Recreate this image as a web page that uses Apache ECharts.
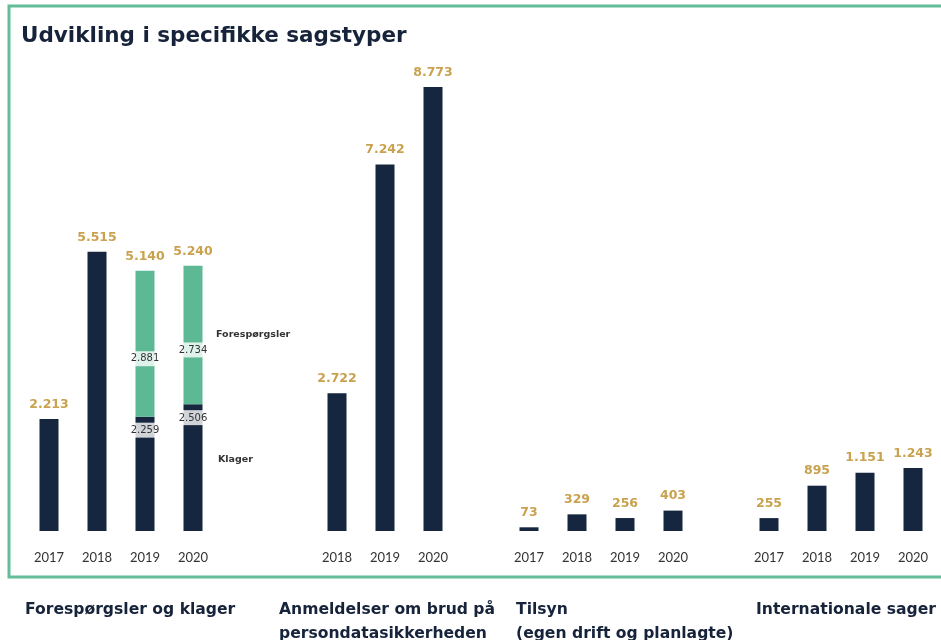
<!DOCTYPE html>
<html><head><meta charset="utf-8">
<script src="https://cdn.jsdelivr.net/npm/echarts@6/dist/echarts.min.js"></script>
<style>html,body{margin:0;padding:0;background:#fff}#c{width:941px;height:640px}</style>
</head><body><div id="c"></div>
<script>
// ---- data ----
const chartTitle = 'Udvikling i specifikke sagstyper';
const groupNames = ['Forespørgsler og klager', 'Anmeldelser om brud på\npersondatasikkerheden', 'Tilsyn\n(egen drift og planlagte)', 'Internationale sager'];
const years1 = ['2017', '2018', '2019', '2020'];
const totals1 = [2213, 5515, 5140, 5240];
const klager1 = [null, null, 2259, 2506];
const foresp1 = [null, null, 2881, 2734];
const years2 = ['2018', '2019', '2020'];
const totals2 = [2722, 7242, 8773];
const years3 = ['2017', '2018', '2019', '2020'];
const totals3 = [73, 329, 256, 403];
const years4 = ['2017', '2018', '2019', '2020'];
const totals4 = [255, 895, 1151, 1243];
const seriesNames = ['Klager', 'Forespørgsler'];

// ---- layout / style ----
const gapSlots = [2, 1, 1];
const NAVY = '#16263e', GREEN = '#5db994', GOLD = '#c9a24f', BORDER = '#62bd98', TXT = '#16233a';
const FONT = 'Lato';
const BOLDFONT = 'DejaVu Sans';
const groupTitleX = [25, 279, 516, 756];

function fmt(n) { return String(n).replace(/\B(?=(\d{3})+(?!\d))/g, '.'); }

const groups = [
  { years: years1, totals: totals1, klager: klager1, foresp: foresp1 },
  { years: years2, totals: totals2 },
  { years: years3, totals: totals3 },
  { years: years4, totals: totals4 }
];

const innerLabelBase = {
  show: true, fontSize: 10, color: '#333', fontFamily: BOLDFONT,
  backgroundColor: 'rgba(255,255,255,0.8)', padding: [3, 0, 2, 0],
  formatter: p => fmt(p.value)
};

const cats = [], catLabels = [], navy = [], green = [], tot = [], totVals = [];
let splitKey = null, splitK = 0, splitF = 0;
groups.forEach((g, gi) => {
  g.years.forEach((y, i) => {
    const key = gi + '|' + y;
    cats.push(key); catLabels.push(y);
    const k = g.klager ? g.klager[i] : null;
    const f = g.foresp ? g.foresp[i] : null;
    if (k != null) {
      navy.push({ value: k, label: Object.assign({}, innerLabelBase, { position: 'insideTop', distance: 6 }) });
      green.push({ value: f, label: Object.assign({}, innerLabelBase, { position: 'inside', offset: [0, 15] }) });
      splitKey = key; splitK = k; splitF = f;
    } else {
      navy.push(g.totals[i]); green.push('-');
    }
    tot.push(0); totVals.push(g.totals[i]);
  });
  if (gi < gapSlots.length) {
    for (let j = 0; j < gapSlots[gi]; j++) {
      cats.push('gap' + gi + '_' + j); catLabels.push('');
      navy.push('-'); green.push('-'); tot.push('-'); totVals.push(null);
    }
  }
});

const sideLabel = { show: true, position: 'right', fontSize: 9.5, fontWeight: 'bold', color: '#333', fontFamily: BOLDFONT };

const chart = echarts.init(document.getElementById('c'), null, { renderer: 'canvas' });
chart.setOption({
  animation: false,
  backgroundColor: '#fff',
  title: {
    text: chartTitle, left: 21, top: 25, padding: 0,
    textStyle: { fontSize: 21.5, fontWeight: 'bold', color: TXT, fontFamily: BOLDFONT }
  },
  grid: { left: 25, right: 4, top: 40, bottom: 109 },
  xAxis: {
    type: 'category', data: cats,
    axisLine: { show: false }, axisTick: { show: false },
    axisLabel: { interval: 0, margin: 20, fontSize: 13, color: '#333', fontFamily: FONT,
      formatter: (v, i) => catLabels[i] }
  },
  yAxis: { type: 'value', min: 0, max: 9700, show: false, splitLine: { show: false } },
  series: [
    { name: seriesNames[0], type: 'bar', stack: 'a', barWidth: 19, data: navy,
      itemStyle: { color: NAVY }, label: { show: false } },
    { name: seriesNames[1], type: 'bar', stack: 'a', barWidth: 19, data: green,
      itemStyle: { color: GREEN }, label: { show: false },
      markPoint: {
        symbol: 'circle', symbolSize: 0, silent: true,
        data: [
          { coord: [splitKey, splitK + splitF / 2], label: Object.assign({}, sideLabel, { distance: 23, formatter: seriesNames[1] }) },
          { coord: [splitKey, splitK / 2], label: Object.assign({}, sideLabel, { distance: 25, offset: [0, -8], formatter: seriesNames[0] }) }
        ]
      } },
    { name: 'total', type: 'bar', stack: 'a', barWidth: 19, data: tot,
      itemStyle: { color: 'rgba(0,0,0,0)' },
      label: { show: true, position: 'top', distance: 8, fontSize: 12.5, fontWeight: 'bold', color: GOLD, fontFamily: BOLDFONT,
        formatter: p => fmt(totVals[p.dataIndex]) } }
  ],
  graphic: [
    { type: 'rect', silent: true, shape: { x: 9, y: 6, width: 960, height: 571 },
      style: { fill: 'none', stroke: BORDER, lineWidth: 3 } }
  ].concat(groupNames.map((t, i) => ({
    type: 'text', left: groupTitleX[i], top: 598, silent: true,
    style: { text: t, fontSize: 15.6, fontWeight: 'bold', fill: TXT, fontFamily: BOLDFONT, lineHeight: 24 }
  })))
});
</script>
</body></html>
